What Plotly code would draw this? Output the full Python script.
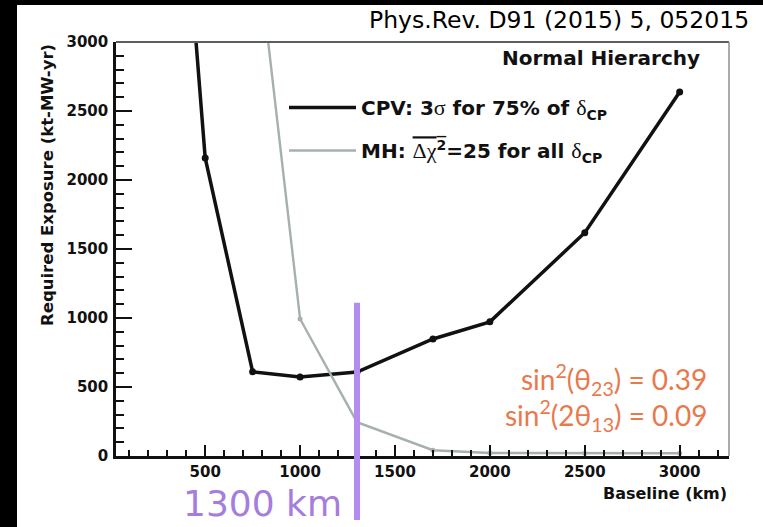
import plotly.graph_objects as go

# ---------------- data ----------------
baseline_cpv = [400, 500, 750, 1000, 1300, 1700, 2000, 2500, 3000]
exposure_cpv = [3900, 2160, 610, 572, 608, 848, 972, 1618, 2638]

baseline_mh = [750, 1000, 1300, 1700, 2000, 2500, 3000]
exposure_mh = [3980, 993, 245, 42, 22, 20, 20]

x_tickvals = [500, 1000, 1500, 2000, 2500, 3000]
x_ticktext = ["500", "1000", "1500", "2000", "2500", "3000"]
y_tickvals = [0, 500, 1000, 1500, 2000, 2500, 3000]
y_ticktext = ["0", "500", "1000", "1500", "2000", "2500", "3000"]

marked_baseline = 1300       # km, purple marker line
marked_top_value = 1110      # top of purple line in exposure units

X_RANGE = [30, 3260]
Y_RANGE = [0, 3000]

W, H = 763, 527
ML, MR, MT, MB = 116, 34, 42, 71
PW, PH = W - ML - MR, H - MT - MB


def px_x(p):
    return (p - ML) / PW


def px_y(p):
    return (H - MB - p) / PH


BOLD = "DejaVu Sans"
BLACK = "#111111"
GRAY = "#a7afaf"
ORANGE = "#e9794d"
PURPLE_LINE = "#b48bf0"
PURPLE_TEXT = "#a57ddc"

fig = go.Figure()

fig.add_trace(go.Scatter(
    x=baseline_cpv, y=exposure_cpv, mode="lines+markers",
    line=dict(color=BLACK, width=3.5),
    marker=dict(color=BLACK, size=7),
    showlegend=False, cliponaxis=True,
))
fig.add_trace(go.Scatter(
    x=baseline_mh, y=exposure_mh, mode="lines+markers",
    line=dict(color=GRAY, width=2.4),
    marker=dict(color=GRAY, size=5),
    showlegend=False, cliponaxis=True,
))

serif = "<span style=\"font-family:'Liberation Serif';font-weight:normal;font-size:22px\">"
fig.add_trace(go.Scatter(
    x=[None], y=[None], mode="lines", line=dict(color=BLACK, width=3.5),
    name="CPV: 3" + serif + "σ</span> for 75% of " + serif + "δ</span><sub>CP</sub>",
    legendgroup="a",
))
fig.add_trace(go.Scatter(
    x=[None], y=[None], mode="lines", line=dict(color=GRAY, width=2.4),
    name="MH: <span style=\"text-decoration:overline\">" + serif + "Δχ</span><sup>2</sup></span>=25 for all " + serif + "δ</span><sub>CP</sub>",
    legendgroup="b",
))

fig.update_layout(
    width=W, height=H,
    margin=dict(l=ML, r=MR, t=MT, b=MB),
    paper_bgcolor="white", plot_bgcolor="white",
    showlegend=True,
    legend=dict(
        x=px_x(284), y=px_y(88), xanchor="left", yanchor="top",
        bgcolor="rgba(0,0,0,0)", font=dict(family=BOLD, size=20, color=BLACK, weight="bold"),
        itemwidth=67, tracegroupgap=14, traceorder="grouped",
    ),
    xaxis=dict(
        range=X_RANGE, showgrid=False, zeroline=False,
        showline=True, linecolor=BLACK, linewidth=2.5, mirror=False,
        tickmode="array", tickvals=x_tickvals, ticktext=x_ticktext,
        ticks="inside", ticklen=11, tickwidth=2, tickcolor=BLACK,
        minor=dict(tickmode="linear", tick0=0, dtick=100, ticks="inside",
                   ticklen=6, tickwidth=1.8, tickcolor=BLACK),
        tickfont=dict(family=BOLD, size=15, color=BLACK, weight="bold"),
    ),
    yaxis=dict(
        range=Y_RANGE, showgrid=False, zeroline=False,
        showline=True, linecolor=BLACK, linewidth=2.5, mirror=False,
        tickmode="array", tickvals=y_tickvals, ticktext=y_ticktext,
        ticks="inside", ticklen=16, tickwidth=2.2, tickcolor=BLACK,
        minor=dict(tickmode="linear", tick0=0, dtick=100, ticks="inside",
                   ticklen=8, tickwidth=1.8, tickcolor=BLACK),
        tickfont=dict(family=BOLD, size=15, color=BLACK, weight="bold"),
        ticklabelstandoff=2,
    ),
)

# framing: black strips of the screenshot, grey top/right border
fig.add_shape(type="rect", xref="paper", yref="paper", layer="below",
              x0=px_x(0), x1=px_x(17), y0=px_y(H), y1=px_y(0),
              fillcolor="black", line=dict(width=0))
fig.add_shape(type="rect", xref="paper", yref="paper", layer="below",
              x0=px_x(0), x1=px_x(W), y0=px_y(5), y1=px_y(0),
              fillcolor="black", line=dict(width=0))
fig.add_shape(type="line", xref="paper", yref="paper",
              x0=0, x1=1, y0=1, y1=1, line=dict(color="#5a6060", width=2))
fig.add_shape(type="line", xref="paper", yref="paper",
              x0=1, x1=1, y0=0, y1=1, line=dict(color="#8a9090", width=1.5))

# purple marker line at 1300 km
fig.add_shape(type="line", xref="x", yref="paper",
              x0=marked_baseline, x1=marked_baseline,
              y0=px_y(520), y1=marked_top_value / Y_RANGE[1],
              line=dict(color=PURPLE_LINE, width=6))

fig.add_annotation(text="1300 km", xref="paper", yref="paper",
                   x=px_x(344), y=px_y(503), xanchor="right", yanchor="middle",
                   showarrow=False, font=dict(family="DejaVu Sans", size=36, color=PURPLE_TEXT))

fig.add_annotation(text="Phys.Rev. D91 (2015) 5, 052015", xref="paper", yref="paper",
                   x=px_x(751), y=px_y(20), xanchor="right", yanchor="middle",
                   showarrow=False, font=dict(family="DejaVu Sans", size=23.5, color="black"))

fig.add_annotation(text="Normal Hierarchy", xref="paper", yref="paper",
                   x=px_x(702), y=px_y(58), xanchor="right", yanchor="middle",
                   showarrow=False, font=dict(family=BOLD, size=20, color=BLACK, weight="bold"))

fig.add_annotation(text="Required Exposure (kt-MW-yr)", xref="paper", yref="paper",
                   x=px_x(47), y=px_y(185), xanchor="center", yanchor="middle", textangle=-90,
                   showarrow=False, font=dict(family=BOLD, size=16.5, color=BLACK, weight="bold"))

fig.add_annotation(text="Baseline (km)", xref="paper", yref="paper",
                   x=px_x(729), y=px_y(493), xanchor="right", yanchor="middle",
                   showarrow=False, font=dict(family=BOLD, size=16, color=BLACK, weight="bold"))

fig.add_annotation(text="sin<sup>2</sup>(θ<sub>23</sub>) = 0.39", xref="paper", yref="paper",
                   x=px_x(709), y=px_y(379), xanchor="right", yanchor="middle",
                   showarrow=False, font=dict(family="Lato", size=28, color=ORANGE))
fig.add_annotation(text="sin<sup>2</sup>(2θ<sub>13</sub>) = 0.09", xref="paper", yref="paper",
                   x=px_x(709), y=px_y(415), xanchor="right", yanchor="middle",
                   showarrow=False, font=dict(family="Lato", size=28, color=ORANGE))

fig.write_html("out.html", config={"displayModeBar": False},
               post_script="document.body.style.margin='0';document.body.style.overflow='hidden';")
